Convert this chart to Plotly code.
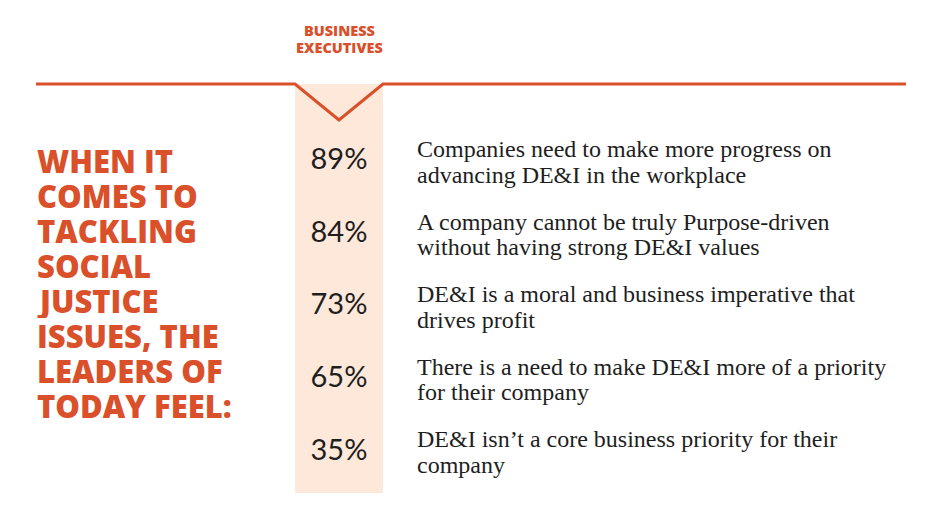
import plotly.graph_objects as go

ORANGE = "#D9502A"
BAND = "#FDE8D9"

header = ["BUSINESS", "EXECUTIVES"]
title_lines = ["WHEN IT", "COMES TO", "TACKLING", "SOCIAL", "JUSTICE",
               "ISSUES, THE", "LEADERS OF", "TODAY FEEL:"]
percents = [89, 84, 73, 65, 35]
statements = [
    ["Companies need to make more progress on", "advancing DE&I in the workplace"],
    ["A company cannot be truly Purpose-driven", "without having strong DE&I values"],
    ["DE&I is a moral and business imperative that", "drives profit"],
    ["There is a need to make DE&I more of a priority", "for their company"],
    ["DE&I isn\u2019t a core business priority for their", "company"],
]

band_x0, band_x1 = 295, 383
band_mid = (band_x0 + band_x1) / 2
rule_y = 84
row_y = [162 + i * 72.6 for i in range(len(percents))]

fig = go.Figure()

# percentages inside the band
fig.add_trace(go.Scatter(
    x=[band_mid] * len(percents), y=row_y,
    text=[f"{p}%" for p in percents],
    mode="text", textposition="middle center",
    textfont=dict(family="Lato", size=29, color="#1E1E1E"),
    hoverinfo="skip", showlegend=False,
))

# statements, two lines each
for y, (l1, l2) in zip(row_y, statements):
    fig.add_trace(go.Scatter(
        x=[417, 417], y=[y - 11, y + 14.5], text=[l1, l2],
        mode="text", textposition="middle right",
        textfont=dict(family="Liberation Serif", size=24, color="#1E1E1E"),
        hoverinfo="skip", showlegend=False,
    ))

shapes = [
    dict(type="rect", x0=band_x0, x1=band_x1, y0=rule_y, y1=493,
         fillcolor=BAND, line=dict(width=0), layer="below"),
    dict(type="path",
         path=f"M 36 {rule_y} L {band_x0} {rule_y} L {band_mid} 120 L {band_x1} {rule_y} L 906 {rule_y}",
         line=dict(color=ORANGE, width=3)),
]

annotations = []
for i, t in enumerate(header):
    annotations.append(dict(x=band_mid, y=30 + i * 16.5, text=t, showarrow=False,
                            xanchor="center", yanchor="middle", height=16,
                            font=dict(family="Open Sans", size=14.5, weight=800, color=ORANGE)))
for i, t in enumerate(title_lines):
    annotations.append(dict(x=35, y=161 + i * 35, text=t, showarrow=False,
                            xanchor="left", yanchor="middle", height=34,
                            font=dict(family="Open Sans", size=31, weight=800, color=ORANGE)))

# the page body has an 8px margin, so offset the ranges to keep pixel coordinates
fig.update_layout(
    width=936, height=512,
    margin=dict(l=0, r=0, t=0, b=0),
    paper_bgcolor="white", plot_bgcolor="white",
    xaxis=dict(range=[8, 944], visible=False, fixedrange=True),
    yaxis=dict(range=[520, 8], visible=False, fixedrange=True),
    shapes=shapes, annotations=annotations,
)

fig.write_html("out.html")
